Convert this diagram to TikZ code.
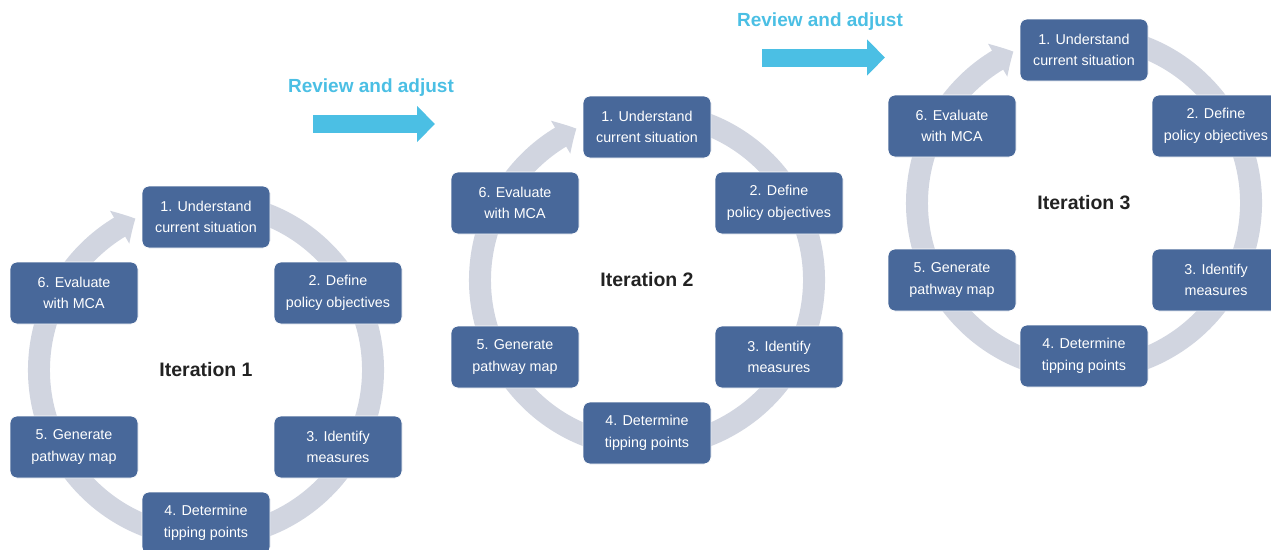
\documentclass[tikz,border=0pt]{standalone}
\usepackage{fontspec}
\setmainfont{Liberation Sans}
\usetikzlibrary{arrows.meta,bending}
\definecolor{stepblue}{HTML}{48689A}
\definecolor{ringgray}{HTML}{D1D5E0}
\definecolor{reviewblue}{HTML}{4BBFE4}
\definecolor{labelgray}{HTML}{222222}
\tikzset{
  stepbox/.style={fill=stepblue, draw=white, line width=0.8pt, rounded corners=7pt,
    minimum width=128pt, minimum height=62pt, inner sep=0pt, text=white,
    align=center, font=\fontsize{14.3}{21.5}\selectfont},
  ring/.style={draw=ringgray, line width=22pt, -{Triangle[width=37pt,length=18pt,bend]}},
  itlabel/.style={text=labelgray, font=\bfseries\fontsize{19.5}{22}\selectfont},
  reviewtext/.style={text=reviewblue, font=\bfseries\fontsize{19}{22}\selectfont},
  reviewarrow/.style={draw=reviewblue, line width=18pt, -{Triangle[width=35pt,length=18pt]}}
}
\begin{document}
\begin{tikzpicture}[x=1pt,y=1pt]
\useasboundingbox (0,0) rectangle (1271,-549);
\clip (0,0) rectangle (1271,-549);

% the three iterations
\foreach \n/\cx/\cy in {1/206/-370, 2/647/-280, 3/1084/-203} {
  \begin{scope}[shift={(\cx,\cy)}]
  \draw[ring] (80:167pt) arc[start angle=80, end angle=-245, radius=167pt];
  \node[stepbox] (under\n) at (0,153) {1. Understand\\current situation};
  \node[stepbox] (define\n) at (132,77) {2. Define\\policy objectives};
  \node[stepbox] (identify\n) at (132,-77) {3. Identify\\measures};
  \node[stepbox] (tipping\n) at (0,-153) {4. Determine\\tipping points};
  \node[stepbox] (pathway\n) at (-132,-77) {5. Generate\\pathway map};
  \node[stepbox] (mca\n) at (-132,77) {6. Evaluate\\with MCA};
  \node[itlabel] (iter\n) at (0,0) {Iteration \n};
  \end{scope}
}

% review arrows between iterations
\node[reviewtext] (review1) at (371,-88) {Review and adjust};
\coordinate (rev1s) at (313,-124);
\coordinate (rev1e) at (435,-124);
\draw[reviewarrow] (rev1s) -- (rev1e);

\node[reviewtext] (review2) at (820,-22) {Review and adjust};
\coordinate (rev2s) at (762,-57.5);
\coordinate (rev2e) at (885,-57.5);
\draw[reviewarrow] (rev2s) -- (rev2e);
\end{tikzpicture}
\end{document}
